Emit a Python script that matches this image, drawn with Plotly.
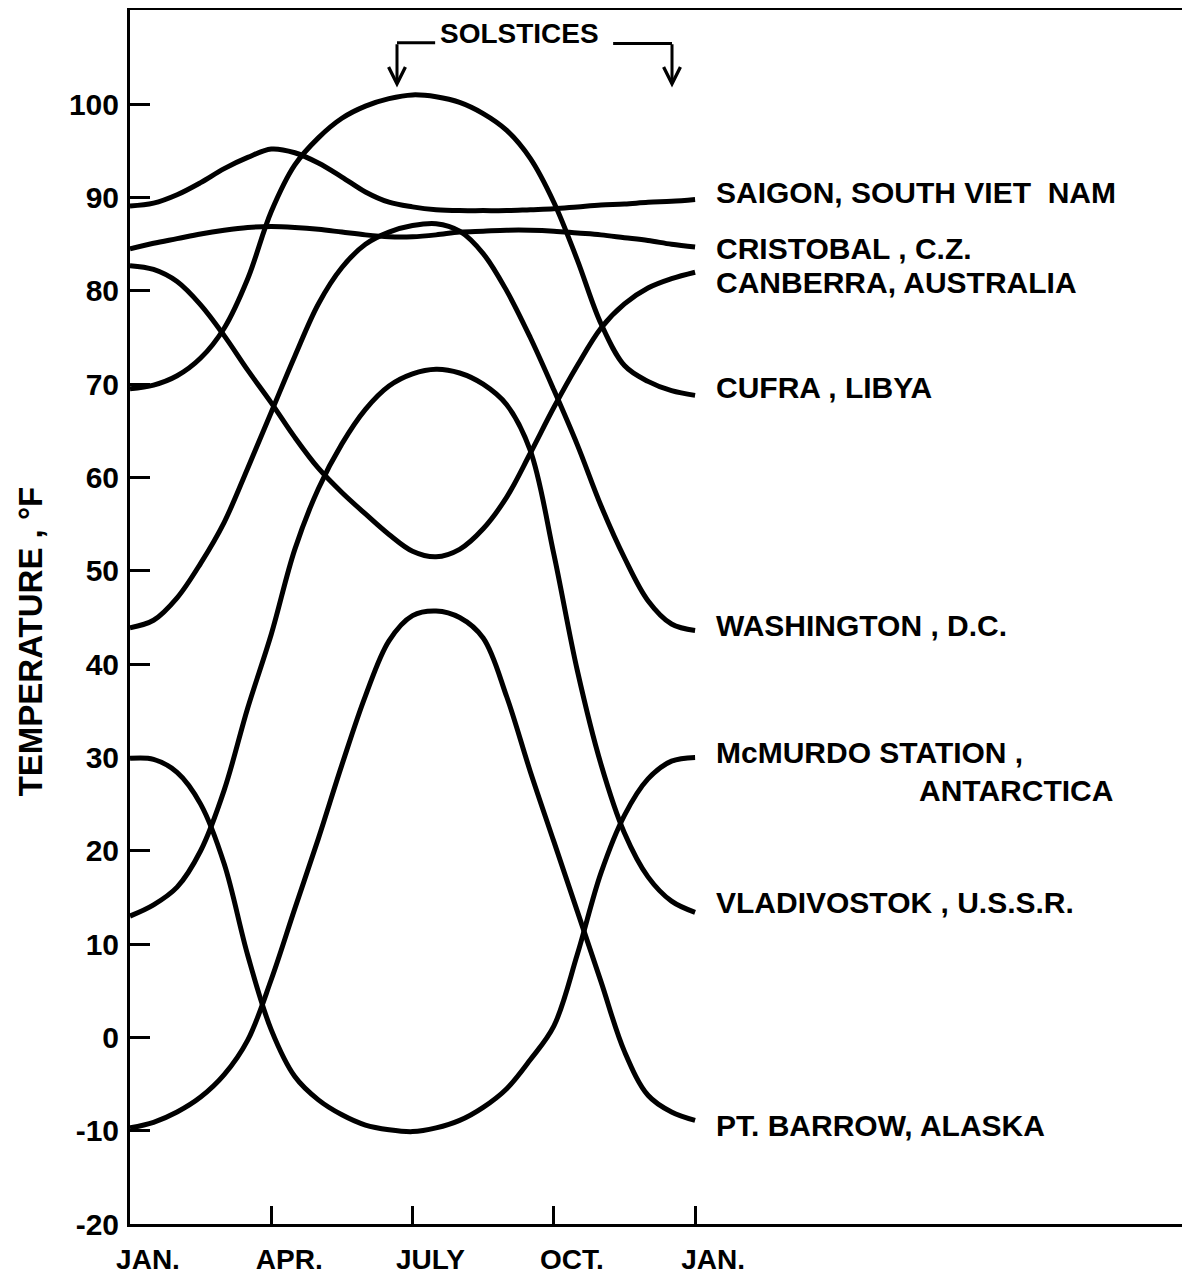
import plotly.graph_objects as go

# ---------------- data ----------------
months = [0, 0.5, 1, 1.5, 2, 2.5, 3, 3.5, 4, 4.5, 5, 5.5, 6,
          6.5, 7, 7.5, 8, 8.5, 9, 9.5, 10, 10.5, 11, 11.5, 12]

saigon = [89.1, 89.4, 90.3, 91.6, 93.1, 94.3, 95.2, 94.8, 93.7, 92.2, 90.6, 89.5, 89.0,
          88.7, 88.6, 88.6, 88.6, 88.7, 88.8, 89.0, 89.2, 89.3, 89.5, 89.6, 89.8]
cristobal = [84.5, 85.1, 85.6, 86.1, 86.5, 86.8, 86.9, 86.8, 86.6, 86.3, 86.0, 85.8, 85.8,
             86.0, 86.3, 86.4, 86.5, 86.5, 86.4, 86.2, 86.0, 85.7, 85.4, 85.0, 84.7]
canberra = [82.7, 82.3, 81.0, 78.5, 75.2, 71.5, 68.0, 64.3, 61.0, 58.4, 56.1, 53.9, 52.1,
            51.5, 52.3, 54.5, 57.9, 62.6, 67.5, 72.0, 76.0, 78.6, 80.3, 81.3, 82.0]
cufra = [69.5, 69.9, 70.9, 72.8, 76.0, 81.3, 88.5, 93.5, 96.4, 98.5, 99.8, 100.6, 101.0,
         100.8, 100.2, 99.0, 97.2, 94.2, 89.5, 83.3, 76.5, 72.0, 70.3, 69.3, 68.8]
washington = [43.9, 44.7, 47.1, 50.8, 55.2, 61.0, 67.0, 73.0, 78.6, 82.5, 85.0, 86.3, 87.0,
              87.2, 86.4, 84.0, 80.0, 75.0, 69.4, 63.5, 57.0, 51.4, 46.8, 44.3, 43.6]
mcmurdo = [29.9, 29.8, 28.4, 25.0, 18.6, 8.8, 0.8, -4.2, -6.7, -8.3, -9.4, -9.9, -10.1,
           -9.7, -8.9, -7.5, -5.5, -2.4, 1.2, 8.9, 17.6, 23.8, 27.7, 29.6, 30.0]
vladivostok = [13.0, 14.2, 16.1, 20.0, 26.5, 35.3, 43.2, 52.3, 58.8, 63.6, 67.3, 69.8, 71.1,
               71.6, 71.2, 70.0, 67.8, 62.9, 51.8, 39.3, 29.3, 21.9, 17.2, 14.6, 13.4]
pt_barrow = [-9.7, -9.1, -8.0, -6.4, -4.0, -0.3, 6.2, 13.8, 21.3, 29.2, 36.6, 42.5, 45.2,
             45.7, 45.0, 42.8, 36.5, 28.5, 21.0, 13.5, 6.0, -1.5, -6.2, -8.0, -8.9]

series = [saigon, cristobal, canberra, cufra, washington, mcmurdo, vladivostok, pt_barrow]

station_labels = ["SAIGON, SOUTH VIET\u00a0\u00a0NAM", "CRISTOBAL , C.Z.", "CANBERRA, AUSTRALIA",
                  "CUFRA , LIBYA", "WASHINGTON , D.C.", "McMURDO STATION ,",
                  "VLADIVOSTOK , U.S.S.R.", "PT. BARROW, ALASKA"]
label_temps = [90.5, 84.5, 80.9, 69.6, 44.1, 30.5, 14.5, -9.4]

x_tick_months = [0, 3, 6, 9, 12]
x_tick_labels = ["JAN.", "APR.", "JULY", "OCT.", "JAN."]
y_ticks = [-20, -10, 0, 10, 20, 30, 40, 50, 60, 70, 80, 90, 100]
y_tick_labels = ["-20", "-10", "0", "10", "20", "30", "40", "50", "60", "70", "80", "90", "100"]

solstice_months = [5.67, 11.51]

FONT = "Liberation Sans"
BLACK = "#000000"

fig = go.Figure()
for vals in series:
    fig.add_trace(go.Scatter(
        x=months, y=vals, mode="lines",
        line=dict(color=BLACK, width=5, shape="spline", smoothing=1.0),
        showlegend=False, hoverinfo="skip"))

annotations = []
label_x = 12.4
for text, yv in zip(station_labels, label_temps):
    annotations.append(dict(x=label_x, y=yv, xref="x", yref="y", text=text,
                            showarrow=False, xanchor="left", yanchor="middle",
                            font=dict(family=FONT, size=30, color=BLACK, weight="bold")))
annotations.append(dict(x=20.92, y=26.5, xref="x", yref="y", text="ANTARCTICA",
                        showarrow=False, xanchor="right", yanchor="middle",
                        font=dict(family=FONT, size=30, color=BLACK, weight="bold")))

# solstice bracket
annotations.append(dict(x=8.28, y=107.6, xref="x", yref="y", text="SOLSTICES",
                        showarrow=False, xanchor="center", yanchor="middle",
                        font=dict(family=FONT, size=28, color=BLACK, weight="bold")))
for sm in solstice_months:
    annotations.append(dict(x=sm, y=101.8, xref="x", yref="y", ax=sm, ay=106.6,
                            axref="x", ayref="y", text="", showarrow=True,
                            arrowhead=5, arrowsize=1.1, arrowwidth=3, arrowcolor=BLACK,
                            standoff=0, startstandoff=0))

# y-axis title
annotations.append(dict(x=-0.0936, y=0.48, xref="paper", yref="paper",
                        text="TEMPERATURE , \u00b0F", showarrow=False, textangle=-90,
                        xanchor="center", yanchor="middle",
                        font=dict(family=FONT, size=33, color=BLACK, weight="bold")))

shapes = [
    dict(type="line", xref="x", yref="y", x0=solstice_months[0], x1=6.48, y0=106.6, y1=106.6,
         line=dict(color=BLACK, width=3)),
    dict(type="line", xref="x", yref="y", x0=10.26, x1=solstice_months[1], y0=106.5, y1=106.5,
         line=dict(color=BLACK, width=3)),
]

# the page body has an 8px margin; the plot area is extended to reach the window's right edge
fig.update_layout(
    width=1190, height=1271,
    margin=dict(l=122, r=0, t=2, b=55, autoexpand=False),
    paper_bgcolor="white", plot_bgcolor="white",
    annotations=annotations, shapes=shapes,
    showlegend=False,
    xaxis=dict(range=[0, 22.68], tickvals=x_tick_months, ticktext=x_tick_labels,
               ticks="inside", ticklen=18, tickwidth=3, tickcolor=BLACK,
               showline=True, linewidth=3, linecolor=BLACK, mirror=True,
               showgrid=False, zeroline=False, automargin=False,
               ticklabelshift=18, ticklabelstandoff=8,
               tickfont=dict(family=FONT, size=28, color=BLACK, weight="bold")),
    yaxis=dict(range=[-20, 110.1], tickvals=y_ticks, ticktext=y_tick_labels,
               ticks="inside", ticklen=20, tickwidth=3, tickcolor=BLACK,
               showline=True, linewidth=3, linecolor=BLACK, automargin=False,
               showgrid=False, zeroline=False, ticklabelstandoff=2,
               tickfont=dict(family=FONT, size=30, color=BLACK, weight="bold")),
)

fig.write_html("out.html")
